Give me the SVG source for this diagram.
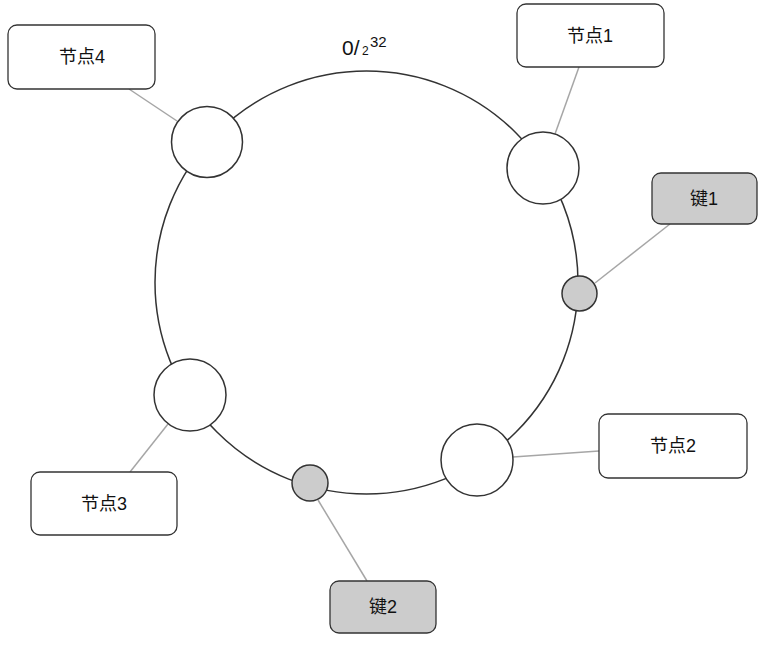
<svg xmlns="http://www.w3.org/2000/svg" width="769" height="648" viewBox="0 0 769 648">
<style>
.ring{fill:none;stroke:#333;stroke-width:1.5}
.node{fill:#fff;stroke:#333;stroke-width:1.5}
.key{fill:#cccccc;stroke:#333;stroke-width:1.5}
.box{fill:#fff;stroke:#333;stroke-width:1.3}
.kbox{fill:#cccccc;stroke:#333;stroke-width:1.3}
.conn{stroke:#a6a6a6;stroke-width:1.5;fill:none}
.t{font-family:"Liberation Sans","Noto Sans CJK SC",sans-serif;font-size:18px;fill:#111;text-anchor:middle;dominant-baseline:central}
.lbl{font-family:"Liberation Sans",sans-serif;fill:#111}
</style>
<rect width="769" height="648" fill="#fff"/>
<circle class="ring" cx="366.5" cy="282.5" r="211.5"/>
<g id="connectors">
<line class="conn" x1="129" y1="89" x2="177" y2="121"/>
<line class="conn" x1="579" y1="67" x2="555" y2="134"/>
<line class="conn" x1="670" y1="224" x2="595" y2="283"/>
<line class="conn" x1="513" y1="457" x2="599" y2="451"/>
<line class="conn" x1="130" y1="472" x2="168" y2="424"/>
<line class="conn" x1="318" y1="500" x2="367" y2="581"/>
</g>
<g id="label">
<text class="lbl" x="342" y="55" font-size="21">0/</text>
<text class="lbl" x="362" y="55" font-size="12">2</text>
<text class="lbl" x="370" y="47" font-size="15">32</text>
</g>
<g id="ring-node4"><circle class="node" cx="207" cy="142" r="35.5"/></g>
<g id="ring-node1"><circle class="node" cx="543" cy="168" r="36"/></g>
<g id="ring-key1"><circle class="key" cx="579.5" cy="293.5" r="17.5"/></g>
<g id="ring-node2"><circle class="node" cx="477" cy="460" r="36"/></g>
<g id="ring-key2"><circle class="key" cx="310" cy="483" r="18"/></g>
<g id="ring-node3"><circle class="node" cx="190" cy="395" r="36"/></g>
<g id="node4"><rect class="box" x="8" y="25" width="147" height="64" rx="9"/><text class="t" x="82" y="57">节点4</text></g>
<g id="node1"><rect class="box" x="517" y="4" width="147" height="63" rx="9"/><text class="t" x="590" y="36">节点1</text></g>
<g id="key1"><rect class="kbox" x="652" y="173" width="105" height="51" rx="9"/><text class="t" x="704" y="199">键1</text></g>
<g id="node2"><rect class="box" x="599" y="414" width="148" height="64" rx="9"/><text class="t" x="673" y="446">节点2</text></g>
<g id="node3"><rect class="box" x="31" y="472" width="146" height="63" rx="9"/><text class="t" x="104" y="504">节点3</text></g>
<g id="key2"><rect class="kbox" x="330" y="581" width="106" height="52" rx="9"/><text class="t" x="383" y="607">键2</text></g>
</svg>
